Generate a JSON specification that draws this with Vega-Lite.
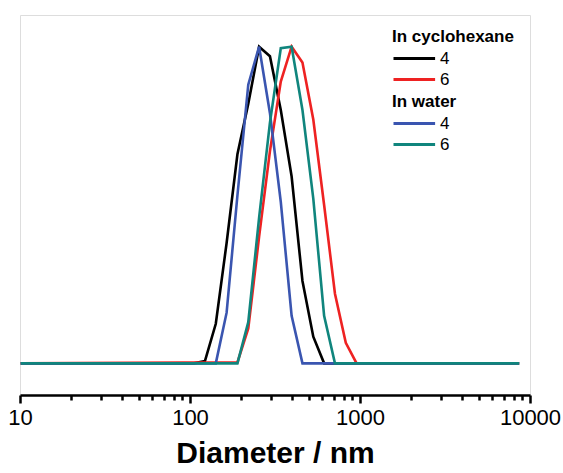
{
  "$schema": "https://vega.github.io/schema/vega-lite/v6.json",
  "width": 510,
  "height": 380,
  "autosize": "none",
  "padding": {"left": 20, "top": 15, "right": 33, "bottom": 78},
  "data": {
    "values": [
      {"d": 10.1, "v": 0, "medium": "In cyclohexane", "s": "4"},
      {"d": 105.7, "v": 0, "medium": "In cyclohexane", "s": "4"},
      {"d": 122.4, "v": 0.7, "medium": "In cyclohexane", "s": "4"},
      {"d": 141.8, "v": 12.5, "medium": "In cyclohexane", "s": "4"},
      {"d": 164.2, "v": 38, "medium": "In cyclohexane", "s": "4"},
      {"d": 190.1, "v": 66, "medium": "In cyclohexane", "s": "4"},
      {"d": 220.2, "v": 82, "medium": "In cyclohexane", "s": "4"},
      {"d": 255.0, "v": 100, "medium": "In cyclohexane", "s": "4"},
      {"d": 295.3, "v": 97, "medium": "In cyclohexane", "s": "4"},
      {"d": 342.0, "v": 80, "medium": "In cyclohexane", "s": "4"},
      {"d": 396.1, "v": 59, "medium": "In cyclohexane", "s": "4"},
      {"d": 458.7, "v": 26, "medium": "In cyclohexane", "s": "4"},
      {"d": 531.2, "v": 8.4, "medium": "In cyclohexane", "s": "4"},
      {"d": 615.1, "v": 0, "medium": "In cyclohexane", "s": "4"},
      {"d": 8635, "v": 0, "medium": "In cyclohexane", "s": "4"},

      {"d": 10.1, "v": 0, "medium": "In cyclohexane", "s": "6"},
      {"d": 190.1, "v": 0.3, "medium": "In cyclohexane", "s": "6"},
      {"d": 220.2, "v": 11, "medium": "In cyclohexane", "s": "6"},
      {"d": 255.0, "v": 40, "medium": "In cyclohexane", "s": "6"},
      {"d": 295.3, "v": 67, "medium": "In cyclohexane", "s": "6"},
      {"d": 342.0, "v": 89, "medium": "In cyclohexane", "s": "6"},
      {"d": 396.1, "v": 100, "medium": "In cyclohexane", "s": "6"},
      {"d": 458.7, "v": 95, "medium": "In cyclohexane", "s": "6"},
      {"d": 531.2, "v": 77, "medium": "In cyclohexane", "s": "6"},
      {"d": 615.1, "v": 50, "medium": "In cyclohexane", "s": "6"},
      {"d": 712.4, "v": 22, "medium": "In cyclohexane", "s": "6"},
      {"d": 825.0, "v": 6.5, "medium": "In cyclohexane", "s": "6"},
      {"d": 955.4, "v": 0, "medium": "In cyclohexane", "s": "6"},
      {"d": 8635, "v": 0, "medium": "In cyclohexane", "s": "6"},

      {"d": 10.1, "v": 0, "medium": "In water", "s": "4"},
      {"d": 141.8, "v": 0, "medium": "In water", "s": "4"},
      {"d": 164.2, "v": 16, "medium": "In water", "s": "4"},
      {"d": 190.1, "v": 53, "medium": "In water", "s": "4"},
      {"d": 220.2, "v": 88, "medium": "In water", "s": "4"},
      {"d": 255.0, "v": 100, "medium": "In water", "s": "4"},
      {"d": 295.3, "v": 79, "medium": "In water", "s": "4"},
      {"d": 342.0, "v": 51, "medium": "In water", "s": "4"},
      {"d": 396.1, "v": 15, "medium": "In water", "s": "4"},
      {"d": 458.7, "v": 0, "medium": "In water", "s": "4"},
      {"d": 8635, "v": 0, "medium": "In water", "s": "4"},

      {"d": 10.1, "v": 0, "medium": "In water", "s": "6"},
      {"d": 190.1, "v": 0, "medium": "In water", "s": "6"},
      {"d": 220.2, "v": 13, "medium": "In water", "s": "6"},
      {"d": 255.0, "v": 46, "medium": "In water", "s": "6"},
      {"d": 295.3, "v": 76, "medium": "In water", "s": "6"},
      {"d": 342.0, "v": 99.5, "medium": "In water", "s": "6"},
      {"d": 396.1, "v": 100, "medium": "In water", "s": "6"},
      {"d": 458.7, "v": 80, "medium": "In water", "s": "6"},
      {"d": 531.2, "v": 52, "medium": "In water", "s": "6"},
      {"d": 615.1, "v": 15, "medium": "In water", "s": "6"},
      {"d": 712.4, "v": 0, "medium": "In water", "s": "6"},
      {"d": 8635, "v": 0, "medium": "In water", "s": "6"}
    ]
  },
  "layer": [
    {
      "transform": [{"filter": "datum.medium == 'In cyclohexane'"}],
      "mark": {"type": "line", "strokeWidth": 2.6},
      "encoding": {
        "x": {
          "field": "d",
          "type": "quantitative",
          "scale": {"type": "log", "domain": [10, 10000], "nice": false},
          "axis": {
            "zindex": 5,
            "title": "Diameter / nm",
            "titleFont": "Liberation Sans",
            "titleFontSize": 30,
            "titleFontWeight": "bold",
            "titleColor": "black",
            "titlePadding": 10,
            "values": [10, 100, 1000, 10000],
            "format": "d",
            "labelFont": "Liberation Sans",
            "labelFontSize": 22,
            "labelColor": "black",
            "labelPadding": 4,
            "labelFlush": false,
            "domainColor": "black",
            "domainWidth": 2.5,
            "tickColor": "black",
            "tickWidth": 2.5,
            "tickSize": 8,
            "gridOpacity": 0
          }
        },
        "y": {
          "field": "v",
          "type": "quantitative",
          "scale": {"domain": [-10, 110], "nice": false, "zero": false},
          "axis": null
        },
        "color": {
          "field": "s",
          "type": "nominal",
          "scale": {"domain": ["4", "6"], "range": ["#000000", "#ee2222"]},
          "legend": {
            "title": "In cyclohexane", "orient": "none", "legendX": 372, "legendY": 14, "padding": 0,
            "symbolType": "M-1,0H4.2", "symbolStrokeWidth": 3, "symbolSize": 256,
            "labelFont": "Liberation Sans", "labelFontSize": 17, "labelColor": "black", "labelOffset": 29,
            "titleFont": "Liberation Sans", "titleFontSize": 17, "titleFontWeight": "bold", "titleColor": "black",
            "titlePadding": 3, "rowPadding": 3
          }
        }
      }
    },
    {
      "transform": [{"filter": "datum.medium == 'In water'"}],
      "mark": {"type": "line", "strokeWidth": 2.6},
      "encoding": {
        "x": {
          "field": "d",
          "type": "quantitative",
          "scale": {"type": "log", "domain": [10, 10000], "nice": false},
          "axis": {
            "zindex": 5,
            "orient": "bottom",
            "title": null,
            "values": [20, 30, 40, 50, 60, 70, 80, 90, 200, 300, 400, 500, 600, 700, 800, 900, 2000, 3000, 4000, 5000, 6000, 7000, 8000, 9000],
            "labels": false,
            "domain": false,
            "tickColor": "black",
            "tickWidth": 2.5,
            "tickSize": 5,
            "gridOpacity": 0
          }
        },
        "y": {
          "field": "v",
          "type": "quantitative",
          "scale": {"domain": [-10, 110], "nice": false, "zero": false},
          "axis": null
        },
        "color": {
          "field": "s",
          "type": "nominal",
          "scale": {"domain": ["4", "6"], "range": ["#3a55b0", "#10857d"]},
          "legend": {
            "title": "In water", "orient": "none", "legendX": 372, "legendY": 79, "padding": 0,
            "symbolType": "M-1,0H4.2", "symbolStrokeWidth": 3, "symbolSize": 256,
            "labelFont": "Liberation Sans", "labelFontSize": 17, "labelColor": "black", "labelOffset": 29,
            "titleFont": "Liberation Sans", "titleFontSize": 17, "titleFontWeight": "bold", "titleColor": "black",
            "titlePadding": 3, "rowPadding": 3
          }
        }
      }
    }
  ],
  "resolve": {"scale": {"color": "independent"}, "legend": {"color": "independent"}, "axis": {"x": "independent"}}
}
